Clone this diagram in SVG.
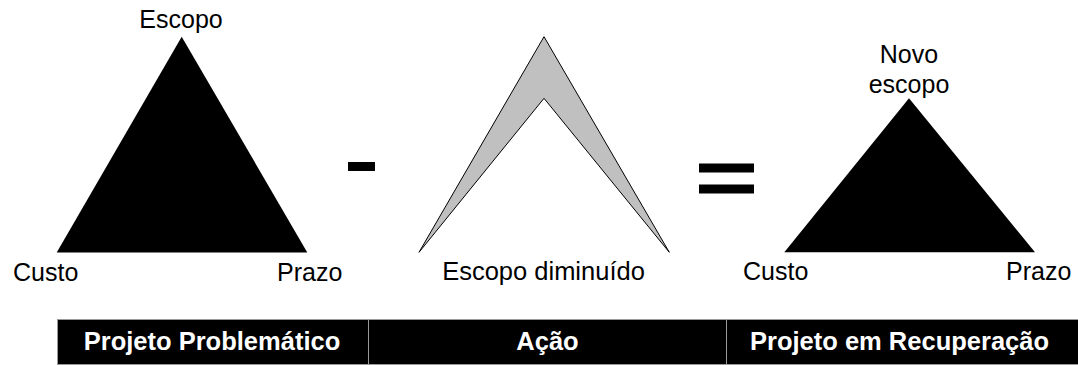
<svg xmlns="http://www.w3.org/2000/svg" width="1078" height="365" viewBox="0 0 1078 365">
  <style>
    .lbl { font-family: "Liberation Sans", Arial, sans-serif; font-size: 25px; fill: #000; }
    .hdr { font-family: "Liberation Sans", Arial, sans-serif; font-size: 25.5px; font-weight: bold; fill: #fff; text-anchor: middle; }
    .cell { fill: #000; stroke: #9a9a9a; stroke-width: 1; }
  </style>
  <rect width="1078" height="365" fill="#fff"/>
  <g id="triangle-problematic">
    <polygon points="181.7,36.7 56.7,252.5 307.3,252.5" fill="#000"/>
    <text class="lbl" x="181" y="28" text-anchor="middle">Escopo</text>
    <text class="lbl" x="13" y="281">Custo</text>
    <text class="lbl" x="277" y="281">Prazo</text>
  </g>
  <g id="minus">
    <rect x="348" y="162" width="27" height="9" fill="#000"/>
  </g>
  <g id="action-chevron">
    <polygon points="544,36.7 669.3,252.3 544,98.3 419,252.3" fill="#c0c0c0" stroke="#000" stroke-width="1" stroke-linejoin="miter"/>
    <text class="lbl" x="543.5" y="280" text-anchor="middle" style="font-size:25.5px">Escopo diminuído</text>
  </g>
  <g id="equals">
    <rect x="699" y="163.5" width="55" height="9" fill="#000"/>
    <rect x="699" y="184.5" width="55" height="9" fill="#000"/>
  </g>
  <g id="triangle-recovery">
    <polygon points="909,98.3 784.3,252.3 1035,252.3" fill="#000"/>
    <text class="lbl" x="909" y="63.3" text-anchor="middle">Novo</text>
    <text class="lbl" x="909" y="92.5" text-anchor="middle">escopo</text>
    <text class="lbl" x="743" y="280">Custo</text>
    <text class="lbl" x="1006" y="280">Prazo</text>
  </g>
  <g id="header-bar">
    <rect class="cell" x="57.5" y="319.5" width="311" height="45"/>
    <rect class="cell" x="368.5" y="319.5" width="358" height="45"/>
    <rect class="cell" x="726.5" y="319.5" width="352" height="45"/>
    <text class="hdr" x="212" y="350">Projeto Problemático</text>
    <text class="hdr" x="547.5" y="350">Ação</text>
    <text class="hdr" x="899.5" y="350">Projeto em Recuperação</text>
  </g>
</svg>
